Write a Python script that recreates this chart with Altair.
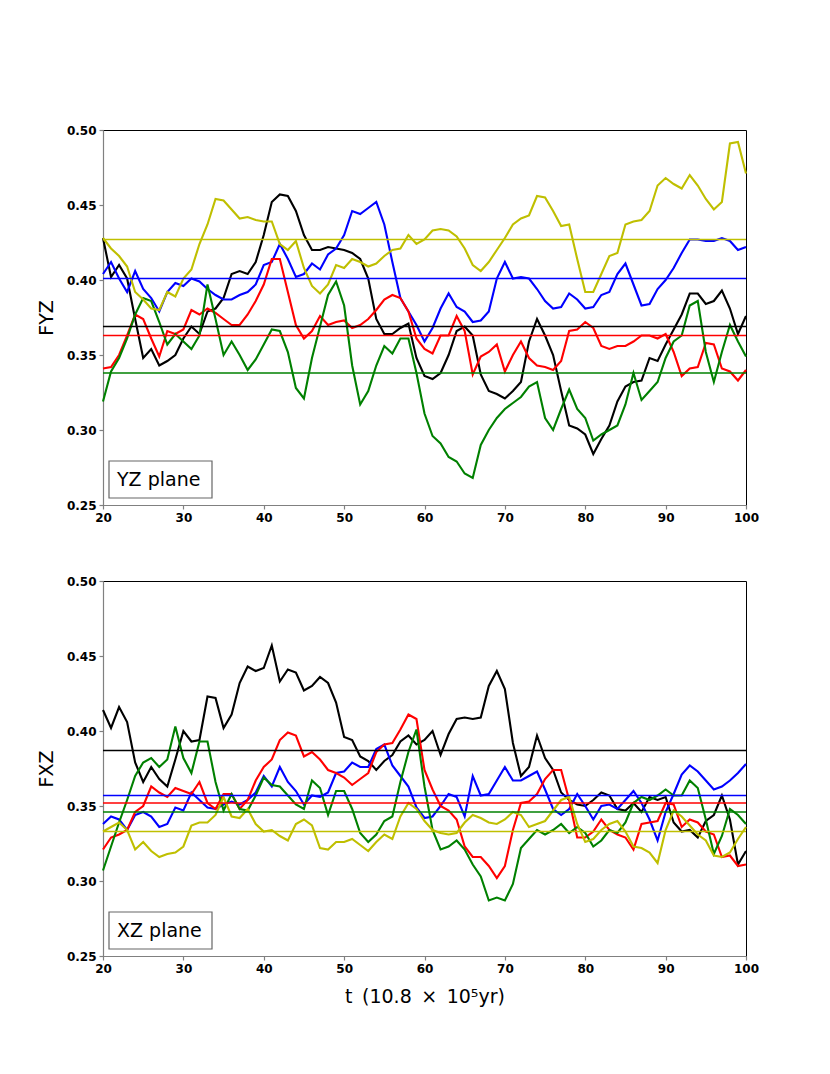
import altair as alt
import pandas as pd

t = list(range(20, 101))
series_names = ["black", "blue", "red", "green", "yellow"]
series_colors = ["#000000", "#0000ff", "#ff0000", "#008000", "#bfbf00"]
x_ticks = [20, 30, 40, 50, 60, 70, 80, 90, 100]
y_ticks = [0.25, 0.30, 0.35, 0.40, 0.45, 0.50]

# ---- YZ plane ----
yz_black = [0.428, 0.402, 0.41, 0.401, 0.374, 0.348, 0.354, 0.343, 0.346, 0.35,
            0.361, 0.369, 0.364, 0.379, 0.381, 0.388, 0.404, 0.406, 0.404, 0.412,
            0.43, 0.452, 0.457, 0.456, 0.446, 0.43, 0.42, 0.42, 0.422, 0.421,
            0.42, 0.418, 0.414, 0.401, 0.374, 0.364, 0.364, 0.368, 0.371, 0.348,
            0.336, 0.334, 0.338, 0.35, 0.366, 0.369, 0.363, 0.337, 0.326, 0.324,
            0.321, 0.326, 0.332, 0.359, 0.374, 0.363, 0.35, 0.326, 0.303, 0.301,
            0.297, 0.284, 0.294, 0.303, 0.319, 0.329, 0.332, 0.333, 0.348, 0.346,
            0.357, 0.367, 0.377, 0.391, 0.391, 0.384, 0.386, 0.393, 0.381, 0.364, 0.376]
yz_blue = [0.404, 0.412, 0.401, 0.392, 0.406, 0.394, 0.388, 0.379, 0.392, 0.398,
           0.396, 0.401, 0.399, 0.394, 0.39, 0.387, 0.387, 0.39, 0.392, 0.397,
           0.41, 0.412, 0.424, 0.414, 0.402, 0.404, 0.411, 0.407, 0.417, 0.421,
           0.43, 0.446, 0.444, 0.448, 0.452, 0.437, 0.412, 0.388, 0.379, 0.37,
           0.359, 0.368, 0.381, 0.391, 0.382, 0.379, 0.372, 0.373, 0.379, 0.401,
           0.412, 0.401, 0.402, 0.401, 0.394, 0.386, 0.381, 0.382, 0.391, 0.387,
           0.381, 0.382, 0.39, 0.392, 0.404, 0.411, 0.397, 0.383, 0.384, 0.394,
           0.40, 0.408, 0.418, 0.427, 0.427, 0.426, 0.426, 0.428, 0.426, 0.42, 0.422]
yz_red = [0.341, 0.342, 0.35, 0.363, 0.377, 0.374, 0.361, 0.349, 0.366, 0.364,
          0.367, 0.38, 0.377, 0.381, 0.378, 0.374, 0.37, 0.37, 0.377, 0.386,
          0.397, 0.414, 0.414, 0.392, 0.37, 0.361, 0.366, 0.376, 0.37, 0.372,
          0.373, 0.368, 0.37, 0.374, 0.38, 0.387, 0.39, 0.388, 0.379, 0.361,
          0.354, 0.351, 0.363, 0.363, 0.376, 0.366, 0.337, 0.349, 0.352, 0.357,
          0.339, 0.35, 0.359, 0.348, 0.343, 0.342, 0.34, 0.346, 0.366, 0.367,
          0.372, 0.368, 0.356, 0.354, 0.356, 0.356, 0.359, 0.363, 0.363, 0.361,
          0.364, 0.352, 0.336, 0.341, 0.342, 0.358, 0.357, 0.341, 0.339, 0.333, 0.34]
yz_green = [0.319, 0.339, 0.348, 0.361, 0.377, 0.388, 0.386, 0.372, 0.357, 0.364,
            0.359, 0.354, 0.363, 0.397, 0.374, 0.35, 0.359, 0.35, 0.34, 0.347,
            0.357, 0.367, 0.366, 0.352, 0.328, 0.321, 0.348, 0.369, 0.39, 0.399,
            0.383, 0.343, 0.317, 0.326, 0.343, 0.356, 0.351, 0.361, 0.361, 0.338,
            0.311, 0.296, 0.291, 0.282, 0.279, 0.271, 0.268, 0.29, 0.30, 0.308,
            0.314, 0.318, 0.322, 0.329, 0.332, 0.308, 0.30, 0.314, 0.327, 0.314,
            0.308, 0.293, 0.297, 0.30, 0.303, 0.317, 0.338, 0.32, 0.326, 0.332,
            0.348, 0.359, 0.363, 0.383, 0.386, 0.352, 0.332, 0.352, 0.37, 0.359, 0.349]
yz_yellow = [0.428, 0.421, 0.416, 0.409, 0.392, 0.387, 0.381, 0.38, 0.392, 0.389,
             0.401, 0.407, 0.424, 0.437, 0.454, 0.453, 0.447, 0.441, 0.442, 0.44,
             0.439, 0.439, 0.424, 0.42, 0.426, 0.408, 0.396, 0.391, 0.397, 0.41,
             0.408, 0.414, 0.412, 0.409, 0.411, 0.416, 0.42, 0.421, 0.43, 0.424,
             0.427, 0.433, 0.434, 0.433, 0.429, 0.421, 0.41, 0.406, 0.412, 0.42,
             0.428, 0.437, 0.441, 0.443, 0.456, 0.455, 0.446, 0.436, 0.437, 0.414,
             0.392, 0.392, 0.404, 0.416, 0.418, 0.437, 0.439, 0.44, 0.446, 0.463,
             0.468, 0.464, 0.461, 0.47, 0.463, 0.454, 0.447, 0.452, 0.491, 0.492, 0.471]
yz_means = [0.369, 0.401, 0.363, 0.338, 0.427]

# ---- XZ plane ----
xz_black = [0.414, 0.402, 0.416, 0.406, 0.379, 0.366, 0.376, 0.368, 0.363, 0.381,
            0.40, 0.393, 0.394, 0.423, 0.422, 0.402, 0.411, 0.432, 0.443, 0.44,
            0.442, 0.457, 0.433, 0.441, 0.439, 0.427, 0.43, 0.436, 0.432, 0.419,
            0.396, 0.394, 0.383, 0.38, 0.374, 0.38, 0.384, 0.393, 0.397, 0.391,
            0.394, 0.40, 0.384, 0.398, 0.408, 0.409, 0.408, 0.409, 0.43, 0.44,
            0.428, 0.392, 0.37, 0.376, 0.397, 0.382, 0.374, 0.359, 0.354, 0.351,
            0.35, 0.354, 0.359, 0.357, 0.348, 0.347, 0.352, 0.346, 0.356, 0.354,
            0.356, 0.339, 0.333, 0.334, 0.329, 0.34, 0.344, 0.357, 0.341, 0.311, 0.32]
xz_blue = [0.338, 0.343, 0.341, 0.334, 0.344, 0.346, 0.343, 0.336, 0.338, 0.349,
           0.347, 0.359, 0.354, 0.349, 0.348, 0.351, 0.353, 0.351, 0.354, 0.359,
           0.37, 0.363, 0.376, 0.366, 0.36, 0.351, 0.357, 0.356, 0.359, 0.372,
           0.373, 0.379, 0.376, 0.376, 0.388, 0.391, 0.377, 0.37, 0.363, 0.349,
           0.342, 0.343, 0.35, 0.358, 0.356, 0.343, 0.37, 0.357, 0.358, 0.367,
           0.376, 0.367, 0.367, 0.37, 0.373, 0.361, 0.348, 0.344, 0.348, 0.358,
           0.35, 0.341, 0.35, 0.351, 0.348, 0.354, 0.36, 0.352, 0.341, 0.327,
           0.346, 0.358, 0.371, 0.377, 0.373, 0.367, 0.361, 0.363, 0.367, 0.372, 0.378]
xz_red = [0.321, 0.329, 0.331, 0.334, 0.346, 0.35, 0.363, 0.359, 0.356, 0.362,
          0.36, 0.358, 0.366, 0.352, 0.348, 0.358, 0.358, 0.348, 0.354, 0.367,
          0.376, 0.381, 0.394, 0.399, 0.397, 0.383, 0.386, 0.381, 0.374, 0.372,
          0.369, 0.364, 0.368, 0.372, 0.386, 0.391, 0.392, 0.401, 0.411, 0.408,
          0.374, 0.361, 0.35, 0.347, 0.341, 0.323, 0.316, 0.316, 0.31, 0.302,
          0.31, 0.334, 0.352, 0.353, 0.358, 0.368, 0.374, 0.374, 0.354, 0.329,
          0.329, 0.333, 0.341, 0.334, 0.331, 0.329, 0.321, 0.338, 0.339, 0.34,
          0.352, 0.351, 0.336, 0.341, 0.339, 0.333, 0.331, 0.316, 0.317, 0.31, 0.311]
xz_green = [0.307, 0.323, 0.339, 0.354, 0.37, 0.379, 0.382, 0.376, 0.381, 0.403,
            0.382, 0.372, 0.393, 0.393, 0.366, 0.347, 0.358, 0.348, 0.347, 0.357,
            0.369, 0.364, 0.363, 0.357, 0.351, 0.348, 0.367, 0.362, 0.344, 0.36,
            0.36, 0.348, 0.332, 0.326, 0.331, 0.34, 0.343, 0.366, 0.386, 0.401,
            0.363, 0.334, 0.321, 0.323, 0.327, 0.321, 0.311, 0.303, 0.287, 0.289,
            0.287, 0.298, 0.322, 0.328, 0.334, 0.331, 0.334, 0.338, 0.332, 0.336,
            0.332, 0.323, 0.327, 0.334, 0.332, 0.339, 0.352, 0.356, 0.354, 0.357,
            0.361, 0.357, 0.357, 0.367, 0.362, 0.341, 0.318, 0.33, 0.348, 0.344, 0.338]
xz_yellow = [0.333, 0.336, 0.339, 0.334, 0.321, 0.326, 0.32, 0.316, 0.318, 0.319,
             0.323, 0.337, 0.339, 0.339, 0.344, 0.356, 0.343, 0.342, 0.348, 0.338,
             0.333, 0.334, 0.33, 0.327, 0.338, 0.341, 0.337, 0.322, 0.321, 0.326,
             0.326, 0.328, 0.324, 0.32, 0.326, 0.331, 0.328, 0.343, 0.352, 0.348,
             0.34, 0.334, 0.332, 0.331, 0.332, 0.339, 0.344, 0.342, 0.339, 0.338,
             0.341, 0.346, 0.344, 0.336, 0.338, 0.34, 0.347, 0.354, 0.356, 0.338,
             0.326, 0.328, 0.334, 0.338, 0.34, 0.333, 0.323, 0.322, 0.319, 0.312,
             0.334, 0.347, 0.343, 0.337, 0.331, 0.327, 0.317, 0.316, 0.319, 0.328, 0.336]
xz_means = [0.387, 0.357, 0.352, 0.346, 0.333]

FONT = "DejaVu Sans"
color_scale = alt.Scale(domain=series_names, range=series_colors)


def panel(series, means, ytitle, label, xtitle):
    rows = []
    for name, vals in zip(series_names, series):
        for ti, v in zip(t, vals):
            rows.append({"t": ti, "v": v, "s": name})
    df = pd.DataFrame(rows)
    mdf = pd.DataFrame({"s": series_names, "v": means})

    if xtitle:
        xaxis = alt.Axis(values=x_ticks, format="d", grid=False, labelFlush=False,
                         labelOverlap=False, title=xtitle)
    else:
        xaxis = alt.Axis(values=x_ticks, format="d", grid=False, labelFlush=False,
                         labelOverlap=False, title=None)
    yaxis = alt.Axis(values=y_ticks, format=".2f", grid=False, labelFlush=False,
                     labelOverlap=False, title=ytitle)
    x = alt.X("t:Q", scale=alt.Scale(domain=[20, 100], nice=False, zero=False), axis=xaxis)
    y = alt.Y("v:Q", scale=alt.Scale(domain=[0.25, 0.50], nice=False, zero=False), axis=yaxis)

    lines = alt.Chart(df).mark_line(strokeWidth=2.1).encode(
        x=x, y=y,
        color=alt.Color("s:N", scale=color_scale, legend=None),
    )
    rules = alt.Chart(mdf).mark_rule(strokeWidth=1.5).encode(
        y=alt.Y("v:Q"),
        color=alt.Color("s:N", scale=color_scale, legend=None),
    )
    ldf = pd.DataFrame({"label": [label]})
    box = alt.Chart(ldf).mark_rect(fill="white", stroke="#666666", strokeWidth=1.2).encode(
        x=alt.value(6), x2=alt.value(109), y=alt.value(331), y2=alt.value(368)
    )
    text = alt.Chart(ldf).mark_text(align="left", baseline="middle", font=FONT,
                                    fontSize=19, color="black").encode(
        x=alt.value(14), y=alt.value(349.5), text="label:N"
    )
    return alt.layer(lines, rules, box, text).properties(width=643, height=375)


top = panel([yz_black, yz_blue, yz_red, yz_green, yz_yellow], yz_means, "FYZ", "YZ plane", None)
bottom = panel([xz_black, xz_blue, xz_red, xz_green, xz_yellow], xz_means, "FXZ", "XZ plane",
               "t\u2002(10.8\u2002×\u200210⁵yr)")

chart = alt.vconcat(top, bottom, spacing=50).properties(
    padding={"left": 28, "top": 115, "right": 5, "bottom": 5}
).configure_view(
    stroke="black", strokeWidth=1
).configure_axis(
    domainColor="#808080", domainWidth=1.2, tickColor="#808080", tickSize=4, tickWidth=1.2,
    labelFont=FONT, labelFontSize=12, labelFontWeight="bold", labelColor="black", labelPadding=3,
    titleFont=FONT, titleFontSize=19, titleFontWeight="normal", titleColor="black", titlePadding=10
).configure_axisX(titlePadding=13)

chart.save("out.html", embed_options={"renderer": "svg", "actions": False})
